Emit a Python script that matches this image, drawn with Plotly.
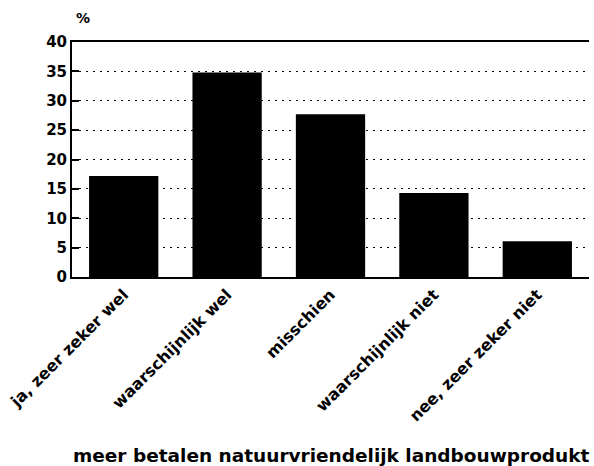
import plotly.graph_objects as go

categories = ["ja, zeer zeker wel", "waarschijnlijk wel", "misschien",
              "waarschijnlijk niet", "nee, zeer zeker niet"]
values = [17.2, 34.8, 27.7, 14.3, 6.1]
y_ticks = [0, 5, 10, 15, 20, 25, 30, 35, 40]

FONT = "DejaVu Sans"

fig = go.Figure(go.Bar(x=categories, y=values, marker=dict(color="black", line=dict(width=0))))

fig.update_layout(
    width=594, height=466,
    margin=dict(l=72, r=5, t=42, b=189),
    paper_bgcolor="white", plot_bgcolor="white",
    bargap=0.33,
    showlegend=False,
    font=dict(family=FONT, color="black", weight="bold"),
    xaxis=dict(
        automargin=False,
        showline=True, linecolor="black", linewidth=2, mirror=True,
        tickangle=-45, ticks="", showgrid=False,
        tickfont=dict(family=FONT, size=16, weight="bold", color="black"),
    ),
    yaxis=dict(
        automargin=False,
        range=[0, 40], tickvals=y_ticks, ticktext=[str(v) for v in y_ticks],
        showline=True, linecolor="black", linewidth=2,
        ticks="inside", ticklen=7, tickwidth=2, tickcolor="black",
        showgrid=True, gridcolor="black", gridwidth=1, griddash="2px,5px",
        zeroline=False,
        tickfont=dict(family=FONT, size=15, weight="bold", color="black"),
    ),
    annotations=[
        dict(text="%", xref="paper", yref="paper", x=0, y=1,
             xanchor="left", yanchor="bottom", yshift=14, xshift=2,
             showarrow=False,
             font=dict(family=FONT, size=14, weight="bold", color="black")),
        dict(text="meer betalen natuurvriendelijk landbouwprodukt",
             xref="paper", yref="paper", x=1, y=0, xanchor="right", yanchor="top",
             yshift=-166, xshift=3, showarrow=False,
             font=dict(family=FONT, size=18.5, weight="bold", color="black")),
    ],
)

fig.write_html("out.html", config={"displayModeBar": False},
               post_script="document.body.style.margin='0';document.body.style.overflow='hidden';")
